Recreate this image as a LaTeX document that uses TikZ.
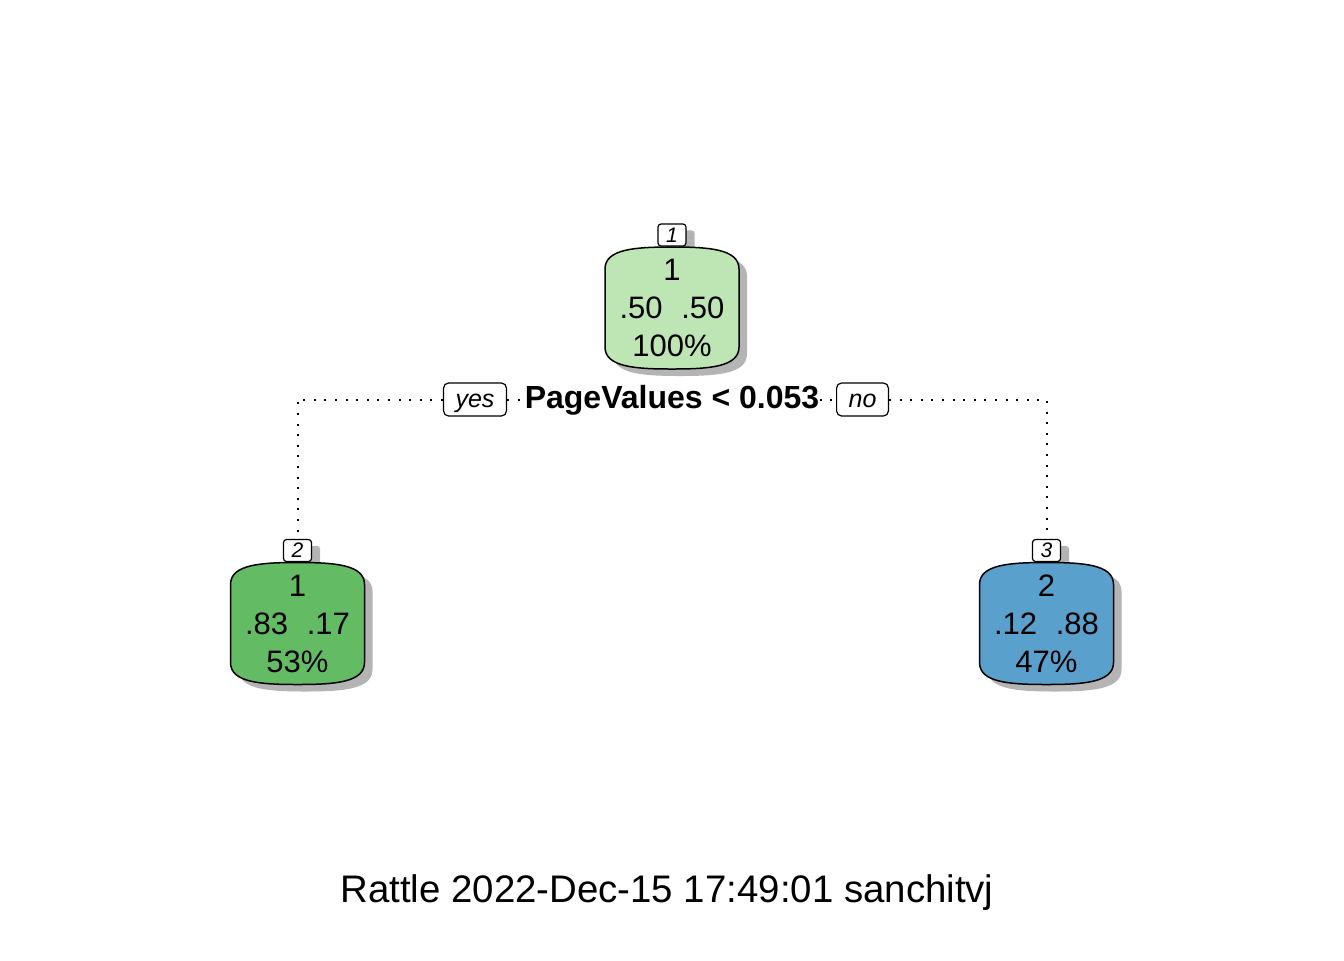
\documentclass[tikz,border=0pt]{standalone}
\usepackage{fontspec}
\setmainfont{Liberation Sans}
\usetikzlibrary{positioning,backgrounds}

\definecolor{rootgreen}{RGB}{190,230,180}
\definecolor{leafgreen}{RGB}{99,187,99}
\definecolor{leafblue}{RGB}{90,160,205}
\definecolor{shadowgray}{RGB}{180,180,180}

% barrel shaped box behind a node, with its shadow and the shadow of its number
\newcommand{\barrelbox}[3]{%
  \begin{pgfonlayer}{background}
    \fill[shadowgray, rounded corners=1.5pt] ([xshift=4pt,yshift=-3.5pt]#2.south west) rectangle ([xshift=4pt,yshift=-3.5pt]#2.north east);
    \begin{scope}[shift={(#1.center)}]
      \fill[shadowgray, xshift=4pt, yshift=-3.5pt] (-67,-39) .. controls (-67,-59) and (-37,-61) .. (0,-61) .. controls (37,-61) and (67,-59) .. (67,-39) -- (67,39) .. controls (67,59) and (37,61) .. (0,61) .. controls (-37,61) and (-67,59) .. (-67,39) -- cycle;
      \filldraw[fill=#3, line width=0.75pt] (-67,-39) .. controls (-67,-59) and (-37,-61) .. (0,-61) .. controls (37,-61) and (67,-59) .. (67,-39) -- (67,39) .. controls (67,59) and (37,61) .. (0,61) .. controls (-37,61) and (-67,59) .. (-67,39) -- cycle;
    \end{scope}
  \end{pgfonlayer}}

\begin{document}
\begin{tikzpicture}[x=0.5pt, y=-0.5pt,
  treenode/.style={align=center, font=\fontsize{15.5}{19}\selectfont, inner sep=0pt, minimum width=67pt, minimum height=61pt},
  numbox/.style={draw, fill=white, rounded corners=1.5pt, line width=0.6pt, font=\fontsize{10.5}{12}\selectfont\itshape, minimum width=14pt, minimum height=11pt, inner sep=0pt},
  answer/.style={draw, fill=white, rounded corners=2.5pt, line width=0.6pt, font=\fontsize{12.5}{14}\selectfont\itshape, minimum height=16.5pt, inner xsep=6pt, inner ysep=0pt, text height=1.45ex, text depth=0pt},
  splitlabel/.style={fill=white, inner xsep=0pt, font=\fontsize{16}{19}\selectfont\bfseries},
  dots/.style={line width=1pt, dash pattern=on 1pt off 4.3pt}]

\useasboundingbox (0,0) rectangle (1344,960);

% Knoten
\node[treenode] (root) at (672,308) {1\\.50\hspace{0.6em}.50\\100\%};
\node[treenode] (left) at (297.5,623.5) {1\\.83\hspace{0.6em}.17\\53\%};
\node[treenode] (right) at (1046.5,623.5) {2\\.12\hspace{0.6em}.88\\47\%};

% Nummern
\node[numbox, above=0pt of root] (rootnum) {1};
\node[numbox, above=0pt of left] (leftnum) {2};
\node[numbox, above=0pt of right] (rightnum) {3};

\barrelbox{root}{rootnum}{rootgreen}
\barrelbox{left}{leftnum}{leafgreen}
\barrelbox{right}{rightnum}{leafblue}

% Split
\node[splitlabel] (split) at (672,400) {PageValues < 0.053};
\node[answer] (yes) at (475,399.5) {yes};
\node[answer] (no) at (862.5,399.5) {no};

\draw[dots] (yes.west) -| (leftnum.north);
\draw[dots] (yes.east) -- (yes.east -| split.west);
\draw[dots] (no.west -| split.east) -- (no.west);
\draw[dots] (no.east) -| (rightnum.north);

% Fusszeile
\node[anchor=base, font=\fontsize{19.2}{22}\selectfont] (footer) at (667,902) {Rattle 2022-Dec-15 17:49:01 sanchitvj};

\end{tikzpicture}
\end{document}
